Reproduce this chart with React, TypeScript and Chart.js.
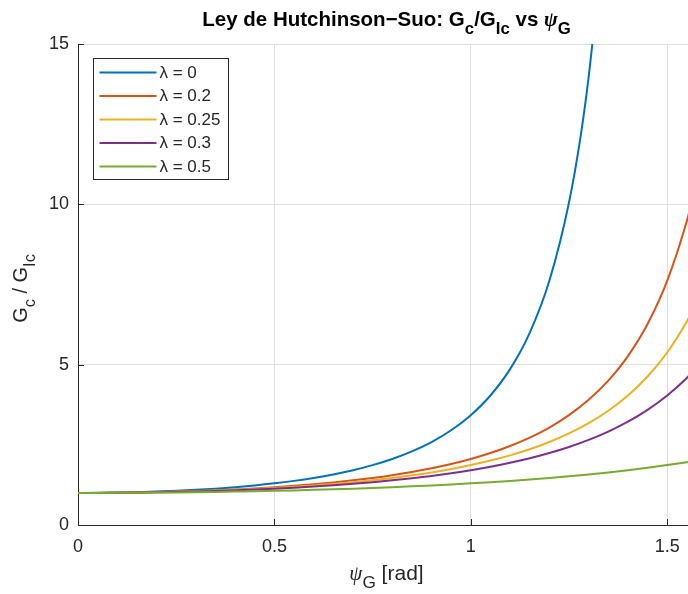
import React, { useEffect, useRef } from "react";
import { Chart, registerables } from "chart.js";

Chart.register(...registerables);

// ψ_G samples (rad) and G_c/G_Ic readings for each mode-mixity parameter λ
const psiLam0 = [
  0, 0.05, 0.1, 0.15, 0.2, 0.25, 0.3, 0.35, 0.4, 0.45, 0.5, 0.55, 0.6, 0.65, 0.7,
  0.75, 0.8, 0.85, 0.9, 0.95, 1.0, 1.05, 1.1, 1.15, 1.2, 1.25, 1.28, 1.3, 1.32,
];
const gLam0 = [
  1.0, 1.0025, 1.0101, 1.0228, 1.0411, 1.0652, 1.0957, 1.1332, 1.1788, 1.2333, 1.2984,
  1.3759, 1.468, 1.5779, 1.7094, 1.8679, 2.0602, 2.2958, 2.588, 2.9555, 3.4255, 4.0391,
  4.8603, 5.9932, 7.616, 10.058, 12.153, 13.965, 16.228,
];

const psi = [
  0, 0.05, 0.1, 0.15, 0.2, 0.25, 0.3, 0.35, 0.4, 0.45, 0.5, 0.55, 0.6, 0.65, 0.7, 0.75,
  0.8, 0.85, 0.9, 0.95, 1.0, 1.05, 1.1, 1.15, 1.2, 1.25, 1.3, 1.35, 1.4, 1.45, 1.5, 1.55,
  1.5708,
];
const gLam02 = [
  1.0, 1.0016, 1.0064, 1.0145, 1.026, 1.0411, 1.0599, 1.0827, 1.1098, 1.1417, 1.1788,
  1.2216, 1.271, 1.3278, 1.3931, 1.468, 1.5543, 1.6539, 1.7693, 1.9034, 2.0602, 2.2446,
  2.4633, 2.7247, 3.0402, 3.4255, 3.9023, 4.5015, 5.2681, 6.2707, 7.616, 9.4793, 10.472,
];
const gLam025 = [
  1.0, 1.0014, 1.0056, 1.0128, 1.0228, 1.036, 1.0524, 1.0722, 1.0957, 1.1232, 1.1549,
  1.1915, 1.2333, 1.2811, 1.3355, 1.3975, 1.468, 1.5486, 1.6407, 1.7463, 1.8679, 2.0085,
  2.1719, 2.363, 2.588, 2.8554, 3.1755, 3.5635, 4.0391, 4.6308, 5.3788, 6.3434, 6.8284,
];
const gLam03 = [
  1.0, 1.0012, 1.0049, 1.0111, 1.0199, 1.0313, 1.0454, 1.0625, 1.0827, 1.1062, 1.1332,
  1.1642, 1.1994, 1.2394, 1.2845, 1.3355, 1.3931, 1.4581, 1.5316, 1.6149, 1.7094, 1.8171,
  1.9403, 2.0816, 2.2446, 2.4338, 2.6547, 2.9146, 3.2229, 3.5921, 4.0391, 4.587, 4.8518,
];
const gLam05 = [
  1.0, 1.0006, 1.0025, 1.0056, 1.0101, 1.0158, 1.0228, 1.0313, 1.0411, 1.0524, 1.0652,
  1.0796, 1.0957, 1.1135, 1.1332, 1.1549, 1.1788, 1.2048, 1.2333, 1.2645, 1.2984, 1.3355,
  1.3759, 1.42, 1.468, 1.5205, 1.5779, 1.6407, 1.7094, 1.7849, 1.8679, 1.9593, 2.0,
];

const seriesLabels = ["λ = 0", "λ = 0.2", "λ = 0.25", "λ = 0.3", "λ = 0.5"];
const seriesColors = ["#0072BD", "#D95319", "#EDB120", "#7E2F8E", "#77AC30"];

const xTicks = [0, 0.5, 1, 1.5];
const yTicks = [0, 5, 10, 15];
const xMin = 0;
const xMax = 1.5708;
const yMin = 0;
const yMax = 15;

const SANS = '"Liberation Sans", Arial, Helvetica, sans-serif';
const SERIF = '"Liberation Serif", "Times New Roman", serif';
const INK = "#262626";

type Part = { t: string; sub?: boolean; italic?: boolean; serif?: boolean };

function partFont(p: Part, size: number, bold: boolean) {
  const s = p.sub ? size * 0.82 : size;
  return `${p.italic ? "italic " : ""}${bold ? "bold " : ""}${s}px ${p.serif ? SERIF : SANS}`;
}

// draws a run of text with TeX-style subscripts, centred on cx
function drawRich(
  ctx: CanvasRenderingContext2D,
  parts: Part[],
  cx: number,
  baseline: number,
  size: number,
  bold: boolean
) {
  let total = 0;
  const widths = parts.map((p) => {
    ctx.font = partFont(p, size, bold);
    const w = ctx.measureText(p.t).width;
    total += w;
    return w;
  });
  let x = cx - total / 2;
  ctx.textAlign = "left";
  ctx.textBaseline = "alphabetic";
  parts.forEach((p, i) => {
    ctx.font = partFont(p, size, bold);
    ctx.fillText(p.t, x, baseline + (p.sub ? size * 0.38 : 0));
    x += widths[i];
  });
}

const titleParts: Part[] = [
  { t: "Ley de Hutchinson−Suo: G" },
  { t: "c", sub: true },
  { t: "/G" },
  { t: "Ic", sub: true },
  { t: " vs " },
  { t: "ψ", italic: true, serif: true },
  { t: "G", sub: true },
];
const xLabelParts: Part[] = [
  { t: "ψ", italic: true, serif: true },
  { t: "G", sub: true },
  { t: " [rad]" },
];
const yLabelParts: Part[] = [
  { t: "G" },
  { t: "c", sub: true },
  { t: " / G" },
  { t: "Ic", sub: true },
];

const decorations = {
  id: "figureDecorations",
  afterDraw(chart: any) {
    const { ctx, chartArea } = chart;
    const { left, right, top, bottom } = chartArea;
    const xs = chart.scales.x;
    const ys = chart.scales.y;
    ctx.save();

    // inward tick marks
    ctx.strokeStyle = INK;
    ctx.lineWidth = 1;
    ctx.beginPath();
    xTicks.forEach((v) => {
      const px = Math.round(xs.getPixelForValue(v)) + 0.5;
      ctx.moveTo(px, bottom);
      ctx.lineTo(px, bottom - 6);
    });
    yTicks.forEach((v) => {
      const py = Math.round(ys.getPixelForValue(v)) + 0.5;
      ctx.moveTo(left, py);
      ctx.lineTo(left + 6, py);
    });
    ctx.stroke();

    // legend
    const bx = left + 15.5;
    const by = top + 14.5;
    const bw = 135;
    const bh = 121;
    ctx.fillStyle = "#ffffff";
    ctx.fillRect(bx, by, bw, bh);
    ctx.strokeStyle = INK;
    ctx.lineWidth = 1;
    ctx.strokeRect(bx, by, bw, bh);
    chart.data.datasets.forEach((ds: any, i: number) => {
      const ry = by + 14 + i * 23.5;
      ctx.strokeStyle = ds.borderColor;
      ctx.lineWidth = 2;
      ctx.beginPath();
      ctx.moveTo(bx + 6, ry);
      ctx.lineTo(bx + 63, ry);
      ctx.stroke();
      ctx.fillStyle = INK;
      ctx.font = `17px ${SANS}`;
      ctx.textAlign = "left";
      ctx.textBaseline = "middle";
      ctx.fillText(ds.label, bx + 66, ry + 0.5);
    });

    // title and axis labels
    const cx = (left + right) / 2;
    ctx.fillStyle = "#000000";
    drawRich(ctx, titleParts, cx, 26, 20.5, true);
    ctx.fillStyle = INK;
    drawRich(ctx, xLabelParts, cx, 580, 21, false);
    ctx.save();
    ctx.translate(27, (top + bottom) / 2 + 4);
    ctx.rotate(-Math.PI / 2);
    drawRich(ctx, yLabelParts, 0, 0, 20, false);
    ctx.restore();

    ctx.restore();
  },
};

export default function App() {
  const canvasRef = useRef<HTMLCanvasElement | null>(null);

  useEffect(() => {
    const canvas = canvasRef.current;
    if (!canvas) return;

    const yData = [gLam0, gLam02, gLam025, gLam03, gLam05];
    const datasets = yData.map((ys, i) => {
      const xs = i === 0 ? psiLam0 : psi;
      return {
        label: seriesLabels[i],
        data: xs.map((x, j) => ({ x, y: ys[j] })),
        borderColor: seriesColors[i],
        backgroundColor: seriesColors[i],
        borderWidth: 2,
        pointRadius: 0,
        cubicInterpolationMode: "monotone" as const,
        order: yData.length - 1 - i,
      };
    });

    const chart = new Chart(canvas, {
      type: "line",
      data: { datasets },
      options: {
        animation: false,
        responsive: false,
        devicePixelRatio: 1,
        layout: { padding: { top: 44, right: 25, bottom: 0, left: 0 } },
        plugins: {
          legend: { display: false },
          title: { display: false },
          tooltip: { enabled: false },
        },
        scales: {
          x: {
            type: "linear",
            min: xMin,
            max: xMax,
            afterBuildTicks: (s: any) => {
              s.ticks = xTicks.map((value) => ({ value }));
            },
            afterFit: (s: any) => {
              s.height = 69;
            },
            ticks: {
              color: INK,
              font: { family: SANS, size: 18 },
              padding: 11,
              maxRotation: 0,
              autoSkip: false,
              callback: (v: any) => String(v),
            },
            grid: { color: "#dfdfdf", lineWidth: 1, drawTicks: false },
            border: { color: INK, width: 1 },
          },
          y: {
            type: "linear",
            min: yMin,
            max: yMax,
            afterBuildTicks: (s: any) => {
              s.ticks = yTicks.map((value) => ({ value }));
            },
            afterFit: (s: any) => {
              s.width = 78;
            },
            ticks: {
              color: INK,
              font: { family: SANS, size: 18 },
              padding: 9,
              autoSkip: false,
              callback: (v: any) => String(v),
            },
            grid: { color: "#dfdfdf", lineWidth: 1, drawTicks: false },
            border: { color: INK, width: 1 },
          },
        },
      },
      plugins: [decorations],
    });

    return () => chart.destroy();
  }, []);

  return (
    <div
      style={{
        position: "fixed",
        left: 0,
        top: 0,
        width: 688,
        height: 594,
        overflow: "hidden",
        background: "#ffffff",
      }}
    >
      <canvas ref={canvasRef} width={720} height={594} style={{ display: "block" }} />
    </div>
  );
}
